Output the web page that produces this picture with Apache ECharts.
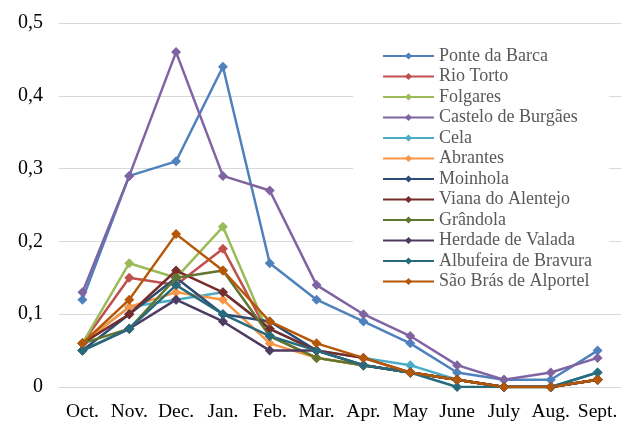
<!DOCTYPE html>
<html>
<head>
<meta charset="utf-8">
<script src="https://cdn.jsdelivr.net/npm/echarts@6/dist/echarts.min.js"></script>
<style>
html,body{margin:0;padding:0;background:#fff;}
#chart{width:621px;height:423px;}
</style>
</head>
<body>
<div id="chart"></div>
<script>
const months = ['Oct.','Nov.','Dec.','Jan.','Feb.','Mar.','Apr.','May','June','July','Aug.','Sept.'];
const seriesNames = ['Ponte da Barca','Rio Torto','Folgares','Castelo de Burgães','Cela','Abrantes','Moinhola','Viana do Alentejo','Grândola','Herdade de Valada','Albufeira de Bravura','São Brás de Alportel'];
const ponteDaBarca = [0.12,0.29,0.31,0.44,0.17,0.12,0.09,0.06,0.02,0.01,0.01,0.05];
const rioTorto     = [0.06,0.15,0.14,0.19,0.07,0.04,0.03,0.02,0.01,0,0,0.01];
const folgares     = [0.06,0.17,0.15,0.22,0.07,0.04,0.03,0.02,0.01,0,0,0.01];
const casteloDeBurgaes = [0.13,0.29,0.46,0.29,0.27,0.14,0.10,0.07,0.03,0.01,0.02,0.04];
const cela         = [0.06,0.11,0.12,0.13,0.08,0.05,0.04,0.03,0.01,0,0,0.02];
const abrantes     = [0.06,0.11,0.13,0.12,0.06,0.04,0.03,0.02,0.01,0,0,0.01];
const moinhola     = [0.05,0.10,0.15,0.10,0.09,0.05,0.03,0.02,0.01,0,0,0.01];
const vianaDoAlentejo = [0.06,0.10,0.16,0.13,0.08,0.05,0.04,0.02,0.01,0,0,0.01];
const grandola     = [0.06,0.08,0.15,0.16,0.07,0.04,0.03,0.02,0.01,0,0,0.01];
const herdadeDeValada = [0.05,0.08,0.12,0.09,0.05,0.05,0.03,0.02,0.01,0,0,0.01];
const albufeiraDeBravura = [0.05,0.08,0.14,0.10,0.07,0.05,0.03,0.02,0,0,0,0.02];
const saoBrasDeAlportel = [0.06,0.12,0.21,0.16,0.09,0.06,0.04,0.02,0.01,0,0,0.01];
const yTicks = ['0','0,1','0,2','0,3','0,4','0,5'];

const allData = [ponteDaBarca,rioTorto,folgares,casteloDeBurgaes,cela,abrantes,moinhola,vianaDoAlentejo,grandola,herdadeDeValada,albufeiraDeBravura,saoBrasDeAlportel];
const colors = ['#4F81BD','#C0504D','#9BBB59','#8064A2','#4BACC6','#F79646','#2C4D75','#772C2A','#5F7530','#4D3B62','#276A7C','#B65708'];

const chart = echarts.init(document.getElementById('chart'), null, {renderer:'canvas'});
chart.setOption({
  animation:false,
  backgroundColor:'#fff',
  color: colors,
  grid:{left:59, right:0, top:23, bottom:36, containLabel:false},
  legend:{
    orient:'vertical',
    left:353, top:35,
    padding:[12,17,10,29],
    backgroundColor:'#fff',
    itemWidth:51, itemHeight:9, itemGap:2.5,
    textStyle:{fontFamily:'Liberation Serif', fontSize:18, color:'#595959', lineHeight:18},
    data: seriesNames
  },
  xAxis:{
    type:'category', data: months, boundaryGap:true,
    axisLine:{show:true, lineStyle:{color:'#d9d9d9', width:1}},
    axisTick:{show:false},
    axisLabel:{fontFamily:'Liberation Serif', fontSize:19.5, color:'#000', margin:15, interval:0}
  },
  yAxis:{
    type:'value', min:0, max:0.5, interval:0.1,
    axisLine:{show:false}, axisTick:{show:false},
    splitLine:{lineStyle:{color:'#d9d9d9', width:1}},
    axisLabel:{fontFamily:'Liberation Serif', fontSize:20, color:'#000', margin:16,
      formatter: function(v){ const i = Math.round(v*10); return yTicks[i]; }}
  },
  series: seriesNames.map((n,i)=>({
    name:n, type:'line', data: allData[i],
    symbol:'diamond', symbolSize:10,
    lineStyle:{width:2.5, color:colors[i]},
    itemStyle:{color:colors[i], borderWidth:0},
    emphasis:{disabled:true}
  }))
});
</script>
</body>
</html>
